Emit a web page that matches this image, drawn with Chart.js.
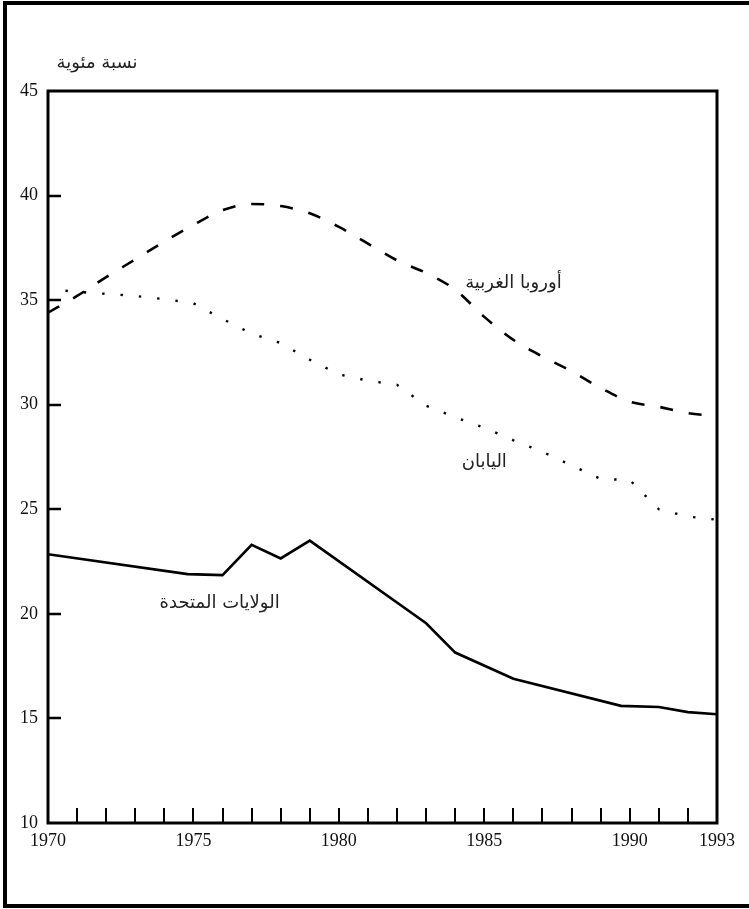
<!DOCTYPE html>
<html>
<head>
<meta charset="utf-8">
<script src="https://cdn.jsdelivr.net/npm/chart.js@4.4.1/dist/chart.umd.min.js"></script>
<style>
  html, body { margin: 0; padding: 0; background: #fff; }
  #wrap { width: 749px; height: 909px; }
</style>
</head>
<body>
<div id="wrap"><canvas id="chart" width="749" height="909"></canvas></div>
<script>
// data
const years = [1970, 1971, 1972, 1973, 1974, 1975, 1976, 1977, 1978, 1979, 1980, 1981,
               1982, 1983, 1984, 1985, 1986, 1987, 1988, 1989, 1990, 1991, 1992, 1993];
const europe = [34.4, 35.2, 36.1, 36.95, 37.8, 38.6, 39.3, 39.6, 39.5, 39.15, 38.5, 37.7,
                36.9, 36.3, 35.5, 34.2, 33.1, 32.3, 31.6, 30.8, 30.15, 29.9, 29.6, 29.45];
const japanYears = [1970.6, 1971, 1972, 1973, 1974, 1975, 1976, 1977, 1978, 1979, 1980, 1981,
                    1982, 1983, 1984, 1985, 1986, 1987, 1988, 1989, 1990, 1991, 1992, 1993];
const japan = [35.45, 35.4, 35.3, 35.2, 35.05, 34.85, 34.1, 33.4, 32.95, 32.15, 31.45, 31.15,
               30.95, 29.95, 29.4, 28.9, 28.3, 27.75, 27.1, 26.45, 26.4, 25.0, 24.65, 24.5];
const usYears = [1970, 1974.8, 1976, 1977, 1978, 1979, 1983, 1984, 1986, 1989.7, 1991, 1992, 1993];
const usValues = [22.85, 21.9, 21.85, 23.3, 22.65, 23.5, 19.55, 18.15, 16.9, 15.6, 15.55, 15.3, 15.2];

const xLabelYears = [1970, 1975, 1980, 1985, 1990, 1993];
const minorYears = [1971, 1972, 1973, 1974, 1975, 1976, 1977, 1978, 1979, 1980, 1981,
                    1982, 1983, 1984, 1985, 1986, 1987, 1988, 1989, 1990, 1991, 1992];
const yTickValues = [15, 20, 25, 30, 35, 40];

const seriesNames = ['أوروبا الغربية', 'اليابان', 'الولايات المتحدة'];
const yTitle = 'نسبة مئوية';

// where the series names sit, in data units
const namePlaces = [{ x: 1986, y: 35.8 }, { x: 1985, y: 27.25 }, { x: 1975.9, y: 20.5 }];

const numFont = { family: '"Liberation Serif", "Times New Roman", serif', size: 18 };
const arabicFont = '18px "DejaVu Sans", sans-serif';

const decorations = {
    id: 'decorations',
    afterDraw(chart) {
        const ctx = chart.ctx;
        const area = chart.chartArea;
        const xs = chart.scales.x;
        const ys = chart.scales.y;
        ctx.save();
        ctx.strokeStyle = '#000';
        ctx.lineCap = 'butt';

        // outer frame (top, left, bottom)
        ctx.lineWidth = 4;
        ctx.beginPath();
        ctx.moveTo(749, 3);
        ctx.lineTo(5, 3);
        ctx.lineTo(5, 906);
        ctx.lineTo(749, 906);
        ctx.stroke();

        // plot box
        ctx.lineWidth = 3;
        ctx.strokeRect(area.left, area.top, area.right - area.left, area.bottom - area.top);

        // inward ticks
        ctx.lineWidth = 2.5;
        ctx.beginPath();
        yTickValues.forEach(v => {
            const py = Math.round(ys.getPixelForValue(v));
            ctx.moveTo(area.left, py);
            ctx.lineTo(area.left + 13, py);
        });
        ctx.stroke();
        ctx.lineWidth = 2;
        ctx.beginPath();
        minorYears.forEach(yr => {
            const px = Math.round(xs.getPixelForValue(yr));
            ctx.moveTo(px, area.bottom);
            ctx.lineTo(px, area.bottom - 15);
        });
        ctx.stroke();

        // texts
        ctx.fillStyle = '#222';
        ctx.font = arabicFont;
        ctx.textAlign = 'center';
        ctx.textBaseline = 'middle';
        ctx.direction = 'rtl';
        seriesNames.forEach((name, i) => {
            ctx.fillText(name, xs.getPixelForValue(namePlaces[i].x), ys.getPixelForValue(namePlaces[i].y));
        });
        ctx.fillText(yTitle, 97, 63);
        ctx.restore();
    }
};

const toPoints = (xArr, yArr) => xArr.map((x, i) => ({ x: x, y: yArr[i] }));

new Chart(document.getElementById('chart').getContext('2d'), {
    type: 'line',
    data: {
        datasets: [
            {
                label: seriesNames[0],
                data: toPoints(years, europe),
                borderColor: '#000',
                borderWidth: 2.6,
                borderDash: [13, 16],
                cubicInterpolationMode: 'monotone',
                pointRadius: 0
            },
            {
                label: seriesNames[1],
                data: toPoints(japanYears, japan),
                borderColor: '#000',
                borderWidth: 2.4,
                borderDash: [2.4, 16],
                tension: 0,
                pointRadius: 0
            },
            {
                label: seriesNames[2],
                data: toPoints(usYears, usValues),
                borderColor: '#000',
                borderWidth: 2.6,
                tension: 0,
                pointRadius: 0
            }
        ]
    },
    options: {
        responsive: false,
        animation: false,
        layout: { padding: { top: 91, right: 32, bottom: 0, left: 0 } },
        plugins: {
            legend: { display: false },
            tooltip: { enabled: false }
        },
        scales: {
            x: {
                type: 'linear',
                min: 1970,
                max: 1993,
                afterBuildTicks: s => { s.ticks = xLabelYears.map(v => ({ value: v })); },
                afterFit: s => { s.height = 86; },
                ticks: {
                    font: numFont,
                    color: '#111',
                    padding: 7,
                    maxRotation: 0,
                    autoSkip: false,
                    callback: v => String(v)
                },
                grid: { display: false, drawTicks: false },
                border: { display: false }
            },
            y: {
                min: 10,
                max: 45,
                afterFit: s => { s.width = 48; },
                ticks: {
                    stepSize: 5,
                    font: numFont,
                    color: '#111',
                    padding: 10
                },
                grid: { display: false, drawTicks: false },
                border: { display: false }
            }
        }
    },
    plugins: [decorations]
});
</script>
</body>
</html>
